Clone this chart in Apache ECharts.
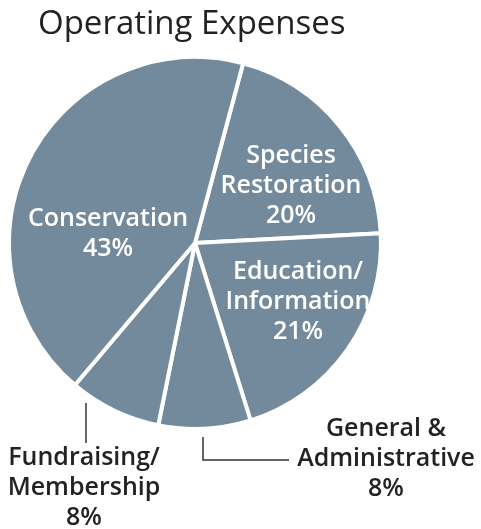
<!DOCTYPE html>
<html>
<head>
<meta charset="utf-8">
<script src="https://cdn.jsdelivr.net/npm/echarts@6/dist/echarts.min.js"></script>
<style>
html,body{margin:0;padding:0;background:#fff;}
#chart{width:481px;height:529px;}
</style>
</head>
<body>
<div id="chart"></div>
<script>
var title = 'Operating Expenses';
var categories = ['Species\nRestoration', 'Education/\nInformation', 'General &\nAdministrative', 'Fundraising/\nMembership', 'Conservation'];
var values = [20, 21, 8, 8, 43];

// label layout (block centres) and leader lines, by slice index
var labelPos = [[291, 186], [298, 302], [386, 459], [84, 488], [108, 234]];
var leaderLines = {2: [[203, 437], [203, 460], [289, 460]], 3: [[86, 403], [86, 423], [86, 443]]};
var outside = {2: true, 3: true};

var chart = echarts.init(document.getElementById('chart'), null, {renderer: 'canvas'});
chart.setOption({
  animation: false,
  title: {
    text: title, left: 33, top: 3,
    textStyle: {fontFamily: 'Open Sans', fontWeight: 400, fontSize: 33, color: '#222'}
  },
  series: [{
    type: 'pie',
    center: [195, 243],
    radius: [0, 186],
    startAngle: 75,
    clockwise: true,
    itemStyle: {color: '#738a9c', borderColor: '#fff', borderWidth: 4},
    emphasis: {disabled: true},
    data: categories.map(function (c, i) {
      var out = !!outside[i];
      return {
        name: c, value: values[i],
        label: {color: out ? '#222' : '#fff', position: out ? 'outside' : 'inside', overflow: 'none', width: 200},
        labelLine: {show: out, length: 10, length2: 10}
      };
    }),
    label: {
      show: true,
      formatter: function (p) { return p.name + '\n' + p.value + '%'; },
      fontFamily: 'Open Sans', fontWeight: 600, fontSize: 25, lineHeight: 30, align: 'center'
    },
    labelLine: {lineStyle: {color: '#333', width: 1.5}},
    labelLayout: function (p) {
      var pos = labelPos[p.dataIndex];
      var r = {x: pos[0], y: pos[1], align: 'center', verticalAlign: 'middle'};
      if (leaderLines[p.dataIndex]) r.labelLinePoints = leaderLines[p.dataIndex];
      return r;
    }
  }]
});
</script>
</body>
</html>
